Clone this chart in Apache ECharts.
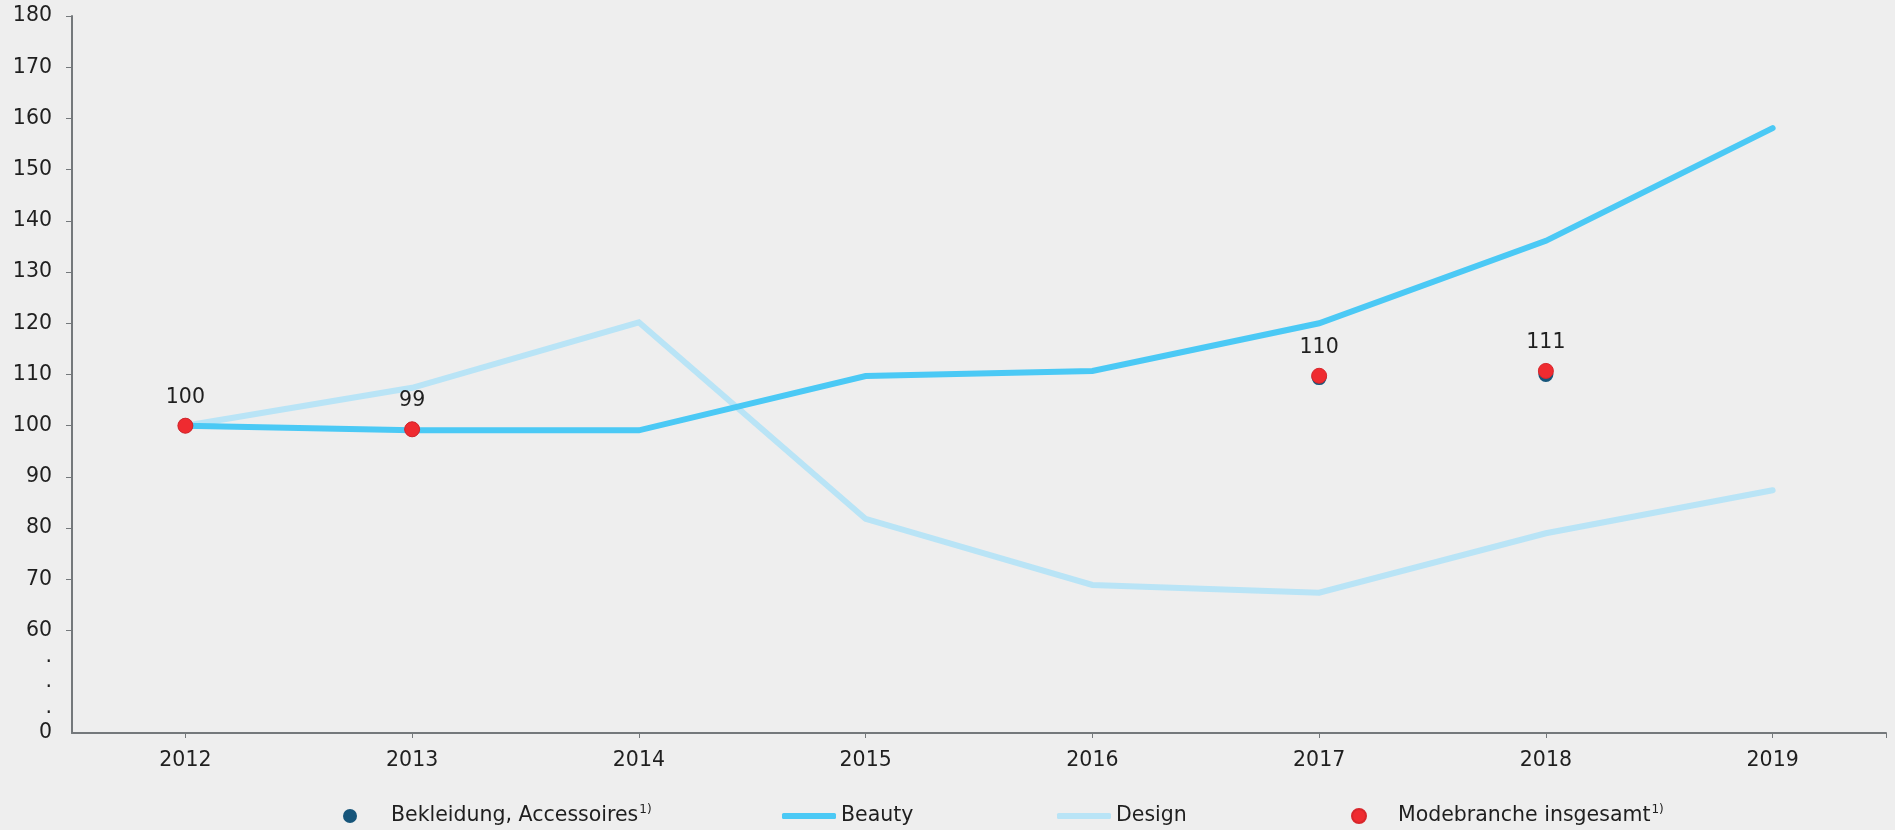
<!DOCTYPE html>
<html lang="de">
<head>
<meta charset="utf-8">
<title>Umsatzentwicklung Modebranche 2012–2019</title>
<script src="https://cdn.jsdelivr.net/npm/echarts@6/dist/echarts.min.js"></script>
<style>
  html, body { margin: 0; padding: 0; background: #eeeeee; }
  #chart { width: 1895px; height: 830px; }
</style>
</head>
<body>
<div id="chart"></div>
<script>
// Index values, 2012 = 100
const years = [2012, 2013, 2014, 2015, 2016, 2017, 2018, 2019];
const bekleidung = [100, 99.3, null, null, null, 109.4, 110.0, null];
const beauty = [100, 99.1, 99.1, 109.7, 110.7, 120.0, 136.1, 158.1];
const design = [100, 107.4, 120.2, 81.8, 68.9, 67.4, 79.0, 87.4];
const modebranche = [100, 99.3, null, null, null, 109.75, 110.7, null];

// Y axis: broken scale, "0" at the bottom, dots for the gap below 60
const yTickValues = [60, 70, 80, 90, 100, 110, 120, 130, 140, 150, 160, 170, 180];
const yLabelValues = [40, 45, 50, 55].concat(yTickValues);
const yLabelText = { 40: '0', 45: '.', 50: '.', 55: '.' };

const FONT = '"DejaVu Sans", Verdana, sans-serif';
const FS = 20.5;
const TXT = '#1f1f1f';
const AXIS = '#74787b';

const pairs = arr => years.map((y, i) => [y, arr[i]]).filter(p => p[1] !== null);

const supRich = {
  n: { fontFamily: FONT, fontSize: FS, color: TXT, lineHeight: 24 },
  s: { fontFamily: FONT, fontSize: 12, color: TXT, lineHeight: 14, verticalAlign: 'top', padding: [0, 0, 0, 1] }
};

function legendFor(name, left, icon, opts) {
  return Object.assign({
    left: left,
    top: 804,
    orient: 'horizontal',
    padding: 0,
    data: [{ name: name, icon: icon }],
    selectedMode: false,
    itemWidth: 14,
    itemHeight: 14,
    textStyle: { fontFamily: FONT, fontSize: FS, color: TXT, lineHeight: 24 }
  }, opts || {});
}

const chart = echarts.init(document.getElementById('chart'), null, { renderer: 'canvas' });

chart.setOption({
  backgroundColor: '#eeeeee',
  animation: false,
  textStyle: { fontFamily: FONT },
  grid: { left: 72, right: 9, top: 16, bottom: 97, containLabel: false },
  xAxis: {
    type: 'value',
    min: 2011.5,
    max: 2019.5,
    axisLine: { show: true, lineStyle: { color: AXIS, width: 2 } },
    axisTick: {
      show: true, length: 5, lineStyle: { color: AXIS, width: 1 },
      customValues: years.concat([2019.5])
    },
    axisLabel: {
      customValues: years,
      formatter: v => String(v),
      color: TXT, fontFamily: FONT, fontSize: FS, margin: 17
    },
    splitLine: { show: false }
  },
  yAxis: {
    type: 'value',
    min: 40,
    max: 180,
    axisLine: { show: true, lineStyle: { color: AXIS, width: 2 } },
    axisTick: {
      show: true, length: 6, lineStyle: { color: AXIS, width: 1 },
      customValues: yTickValues
    },
    axisLabel: {
      customValues: yLabelValues,
      formatter: v => (v in yLabelText ? yLabelText[v] : String(v)),
      color: TXT, fontFamily: FONT, fontSize: FS, margin: 20
    },
    splitLine: { show: false }
  },
  legend: [
    legendFor('Bekleidung, Accessoires', 343, 'circle', {
      formatter: n => '{n|' + n + '}{s|1)}',
      textStyle: { padding: [0, 0, 0, 29], rich: supRich }
    }),
    legendFor('Beauty', 782, 'roundRect', { itemWidth: 54, itemHeight: 6 }),
    legendFor('Design', 1057, 'roundRect', { itemWidth: 54, itemHeight: 6 }),
    legendFor('Modebranche insgesamt', 1351, 'circle', {
      formatter: n => '{n|' + n + '}{s|1)}',
      textStyle: { padding: [0, 0, 0, 27], rich: supRich }
    })
  ],
  series: [
    {
      name: 'Design',
      type: 'line',
      data: pairs(design),
      symbol: 'none',
      lineStyle: { color: '#b9e4f6', width: 6, cap: 'round', join: 'miter' },
      itemStyle: { color: '#b9e4f6' },
      z: 2
    },
    {
      name: 'Beauty',
      type: 'line',
      data: pairs(beauty),
      symbol: 'none',
      lineStyle: { color: '#4bc9f5', width: 6, cap: 'round', join: 'miter' },
      itemStyle: { color: '#4bc9f5' },
      z: 3
    },
    {
      name: 'Bekleidung, Accessoires',
      type: 'scatter',
      data: pairs(bekleidung),
      symbol: 'circle',
      symbolSize: 15,
      itemStyle: { color: '#16557a', opacity: 1 },
      z: 4
    },
    {
      name: 'Modebranche insgesamt',
      type: 'scatter',
      data: pairs(modebranche),
      symbol: 'circle',
      symbolSize: 15,
      itemStyle: { color: '#ef2b30', borderColor: '#d8262b', borderWidth: 1, opacity: 1 },
      label: {
        show: true,
        position: 'top',
        distance: 10,
        formatter: p => String(Math.round(p.value[1])),
        color: TXT, fontFamily: FONT, fontSize: FS
      },
      z: 5
    }
  ]
});
</script>
</body>
</html>
